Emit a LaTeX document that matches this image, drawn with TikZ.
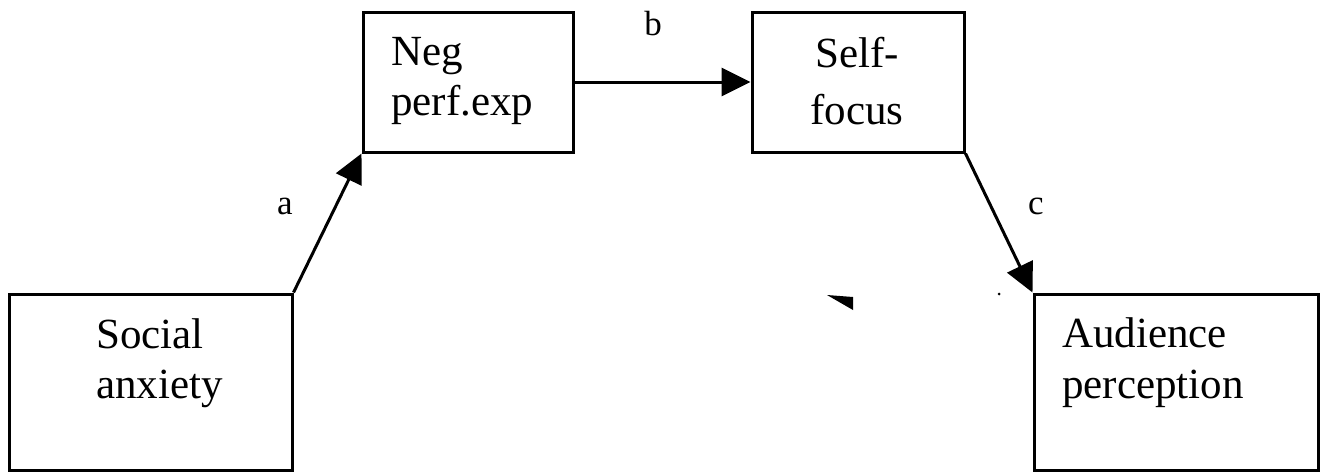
\documentclass[tikz,border=0pt]{standalone}
\usepackage{fontspec}
\setmainfont{Liberation Serif}
\usetikzlibrary{arrows.meta}
\tikzset{
  box/.style={draw=black, line width=3pt, rectangle, inner sep=0pt},
  boxtext/.style={inner sep=0pt, font=\fontsize{43}{50}\selectfont},
  pathlabel/.style={inner sep=0pt, anchor=base, font=\fontsize{35}{40}\selectfont},
  link/.style={line width=3pt, -{Triangle[length=29pt, width=28pt]}},
}
\begin{document}
\begin{tikzpicture}[x=1pt, y=-1pt]
  \useasboundingbox (0,0) rectangle (1325,472);

  % the four variables
  \node[box, minimum width=283pt, minimum height=176pt] (sa)  at (150.5,382) {};
  \node[box, minimum width=210pt, minimum height=140pt] (neg) at (468,82) {};
  \node[box, minimum width=212pt, minimum height=140pt] (sf)  at (858,82) {};
  \node[box, minimum width=284pt, minimum height=176pt] (ap)  at (1176,382) {};

  % box captions
  \node[boxtext, anchor=base west] (saA) at (96,348) {Social};
  \node[boxtext, anchor=base west] (saB) at (96,398) {anxiety};
  \node[boxtext, anchor=base west] (negA) at (391,65) {Neg};
  \node[boxtext, anchor=base west] (negB) at (391,115) {perf.exp};
  \node[boxtext, anchor=base] (sfA) at (857,67) {Self-};
  \node[boxtext, anchor=base] (sfB) at (857,124) {focus};
  \node[boxtext, anchor=base west] (apA) at (1062,347) {Audience};
  \node[boxtext, anchor=base west] (apB) at (1062,398) {perception};

  % mediation paths
  \draw[link] (sa.north east) -- (neg.south west);
  \draw[link] (neg.east) -- (sf.west);
  \draw[link] (sf.south east) -- (ap.north west);

  % path labels
  \node[pathlabel] (la) at (285,214) {a};
  \node[pathlabel] (lb) at (653,35) {b};
  \node[pathlabel] (lc) at (1036,214) {c};

  % stray marks
  \fill (827,295) -- (853,297) -- (853,310) -- cycle;
  \fill (999,294) circle (1.5pt);
\end{tikzpicture}
\end{document}
